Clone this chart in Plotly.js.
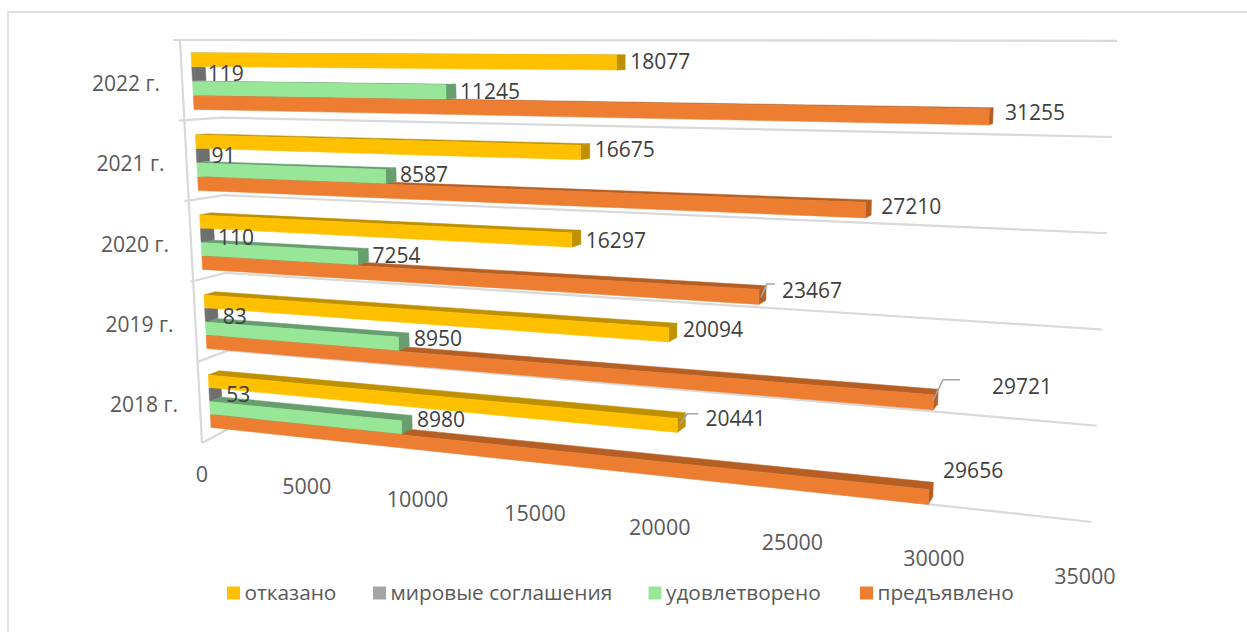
<!DOCTYPE html>
<html><head><meta charset="utf-8">
<script src="https://cdn.plot.ly/plotly-3.0.1.min.js"></script>
<style>html,body{margin:0;padding:0;background:#fff}#c{width:1247px;height:632px}</style>
</head><body><div id="c"></div>
<script>
// ---- data ----
const categories = ['2018 г.', '2019 г.', '2020 г.', '2021 г.', '2022 г.'];
const otkazano   = [20441, 20094, 16297, 16675, 18077];
const mirovye    = [53, 83, 110, 91, 119];
const udovl      = [8980, 8950, 7254, 8587, 11245];
const predyav    = [29656, 29721, 23467, 27210, 31255];
const tickValues = [0, 5000, 10000, 15000, 20000, 25000, 30000, 35000];
const seriesNames = ['отказано', 'мировые соглашения', 'удовлетворено', 'предъявлено'];

// ---- styles ----
const legendColors = ['#FFC000', '#A5A5A5', '#98E698', '#ED7D31'];
const frontColors  = ['#FFC000', '#6E6E6E', '#98E698', '#ED7D31'];
const sideColors   = ['#BF9000', '#6E6E6E', '#669E6E', '#B55F25'];
const gridColor = '#D9D9D9', labelColor = '#404040', tickColor = '#595959';
const FONT = 'Open Sans';

// ---- perspective camera of the 3D chart (value, row) -> pixel ----
const den = v => 1 - 0.0275 * v;                // v = value / 5000
const rowTops = [375, 295, 215, 135, 53];       // top of the first bar of each category at value 0
const step = k => 14.3 - 0.25 * (4 - k);        // bar pitch grows towards the top of the chart
const barH = k => step(k) - 0.8;
function front(value, w) {
  const v = value / 5000, t = v / den(v);
  const x = 191 + (w - 53) * 20 / 374 + (106 - (w - 53) * 4.8 / 374) * t;
  const y = w + (0.5 + (w - 53) * 0.0277) * t;
  return [x, y];
}
function back(value, w) {
  const v = value / 5000, p = front(value, w);
  return [p[0] + 11 - 0.18 * v * v, p[1] - (w - 53) / 75 * (1 + 0.08 * v)];
}
// ---- grid of the walls ----
function wall(value, i) {
  const v = value / 5000, t = v / den(v);
  return [230 - 2 * i + (99.4 + 0.82 * i) * t, 428 - 77.6 * i + (10.84 - 2.15 * i) * t];
}
function stub(i) { const p = wall(0, i); return [p[0] - 28 - 3.8 * i, p[1] + 15 - 3 * i]; }

const traces = [];
function poly(pts, color) {
  traces.push({type:'scatter', mode:'lines', x:pts.map(p=>p[0]).concat(pts[0][0]), y:pts.map(p=>p[1]).concat(pts[0][1]),
    fill:'toself', fillcolor:color, line:{color:color, width:0.5}, hoverinfo:'skip', showlegend:false});
}
function line(pts, color, width) {
  traces.push({type:'scatter', mode:'lines', x:pts.map(p=>p[0]), y:pts.map(p=>p[1]),
    line:{color:color, width:width}, hoverinfo:'skip', showlegend:false});
}
// frame of the picture: left and top edges only
line([[8, 632], [8, 12], [1247, 12]], '#DEDEDE', 1.8);
// walls
for (let i = 0; i <= 5; i++) line([stub(i), wall(0, i), wall(35000, i)], gridColor, 2.2);
line([[180, 40], [202, 443]], gridColor, 2.2);

// bars: painted bottom bar first so that the upper bar covers its top face
const series = [otkazano, mirovye, udovl, predyav];
for (let k = 4; k >= 0; k--) {
  for (let s = 3; s >= 0; s--) {
    const val = series[s][k];
    const w0 = rowTops[k] + s * step(k), w1 = w0 + barH(k);
    const fl = front(0, w0), fr = front(val, w0), gr = front(val, w1), gl = front(0, w1);
    const bl = back(0, w0), br = back(val, w0), brb = back(val, w1);
    poly([fl, bl, br, fr], sideColors[s]);
    poly([fr, br, brb, gr], sideColors[s]);
    poly([fl, fr, gr, gl], frontColors[s]);
  }
}

// data labels: anchor at the bar's end, nudged as in the reference
const nudges = [
  [[20, 1], [5, 7], [5, 0], [10, -17]],     // 2018: отказано, мировые, удовл., предъявлено
  [[6, 1], [5, 7], [5, 1], [54, -8]],       // 2019
  [[5, 6], [4, 7], [4, 3], [16, 0]],        // 2020
  [[5, 1], [2, 3], [4, 2], [10, 1]],        // 2021
  [[5, 1], [2, 2], [4, 2], [12, -1]]        // 2022
];
const lx = [], ly = [], lt = [];
for (let k = 0; k < 5; k++) for (let s = 0; s < 4; s++) {
  const val = series[s][k], w = rowTops[k] + s * step(k) + barH(k) / 2;
  const p = back(val, w);
  lx.push(p[0] + nudges[k][s][0]); ly.push(p[1] + nudges[k][s][1]); lt.push(String(val));
}
traces.push({type:'scatter', mode:'text', x:lx, y:ly, text:lt, textposition:'middle right',
  textfont:{family:FONT, size:21, color:labelColor}, hoverinfo:'skip', showlegend:false});

// leader lines
function leader(s, k, dx1, dy1, dx2, dy2) {
  const w = rowTops[k] + s * step(k) + barH(k) / 2, p = back(series[s][k], w);
  line([[p[0] - 5, p[1] + 4], [p[0] + dx1, p[1] + dy1], [p[0] + dx2, p[1] + dy2]], '#A6A6A6', 1.5);
}
leader(0, 0, 2, -6, 13, -6);
leader(3, 1, 5, -17, 22, -17);
leader(3, 2, 1, -9, 9, -9);

// value ticks
traces.push({type:'scatter', mode:'text',
  x:tickValues.map(t => 202 + 101.85 * (t/5000) / den(t/5000)),
  y:tickValues.map(t => 477 + 11.7 * (t/5000) / den(t/5000)),
  text:tickValues.map(String), textposition:'middle center',
  textfont:{family:FONT, size:21.5, color:tickColor}, hoverinfo:'skip', showlegend:false});
// category labels
traces.push({type:'scatter', mode:'text',
  x:categories.map((c,k) => 144 - 4.5 * k), y:categories.map((c,k) => 407 - 80.3 * k),
  text:categories, textposition:'middle center',
  textfont:{family:FONT, size:21, color:tickColor}, hoverinfo:'skip', showlegend:false});
// legend: swatch and its text
const legendX = [233.5, 379.5, 655, 866.5];
const legendTextGap = 11;
seriesNames.forEach((n, s) => {
  traces.push({type:'scatter', mode:'markers', x:[legendX[s]], y:[593],
    marker:{symbol:'square', size:13, color:legendColors[s]}, hoverinfo:'skip', showlegend:false, name:n});
  traces.push({type:'scatter', mode:'text', x:[legendX[s] + legendTextGap], y:[595], text:[n], textposition:'middle right',
    textfont:{family:FONT, size:20.8, color:tickColor}, hoverinfo:'skip', showlegend:false});
});

const hidden = {visible:false, fixedrange:true};
const layout = {
  width:1247, height:632, margin:{l:0,r:0,t:0,b:0}, paper_bgcolor:'#fff', plot_bgcolor:'#fff', showlegend:false,
  xaxis:Object.assign({range:[0,1247]}, hidden), yaxis:Object.assign({range:[632,0]}, hidden)
};
Plotly.newPlot('c', traces, layout, {displayModeBar:false, staticPlot:true});
</script></body></html>
